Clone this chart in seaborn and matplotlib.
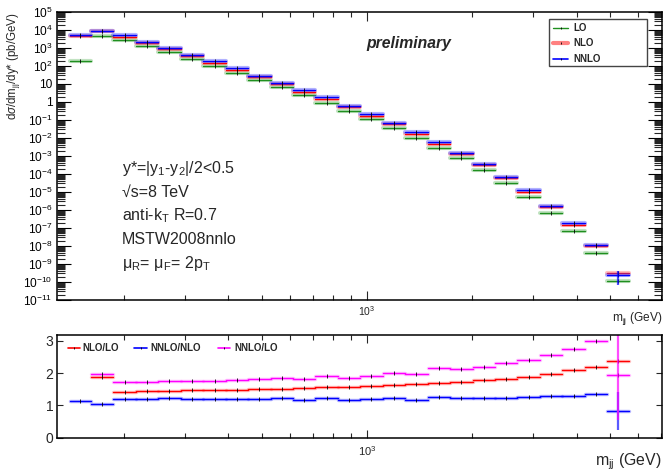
import numpy as np
import pandas as pd
import matplotlib
matplotlib.use("Agg")
import matplotlib.pyplot as plt
import seaborn as sns
from matplotlib.ticker import LogLocator, NullFormatter, NullLocator
from matplotlib.lines import Line2D
from matplotlib.patches import Rectangle

# ---------------- data ----------------
bin_edges = [140, 161, 187, 217, 251, 292, 339, 393, 456, 529, 614, 711, 824,
             956, 1109, 1289, 1494, 1735, 2013, 2332, 2704, 3142, 3641, 4230,
             4894, 5672]

lo = [190, 4.6e3, 2.9e3, 1.29e3, 580, 245, 104, 43, 17.4, 6.6, 2.5, 0.91,
      0.316, 0.11, 0.035, 0.0105, 2.9e-3, 7.4e-4, 1.67e-4, 3.3e-5, 5.5e-6,
      7.1e-7, 6.8e-8, 3.9e-9, 1.2e-10]
nlo = [4.9e3, 8.8e3, 4.3e3, 1.82e3, 850, 360, 153, 63, 24.5, 10, 3.7, 1.47,
       0.506, 0.174, 0.057, 0.0174, 4.8e-3, 1.29e-3, 3.0e-4, 6.0e-5, 1.05e-5,
       1.4e-6, 1.4e-7, 1.0e-8, 3.0e-10]
nnlo = [5.5e3, 9.1e3, 5.0e3, 2.15e3, 1000, 427, 182, 74, 29, 11.9, 4.5, 1.82,
        0.625, 0.206, 0.068, 0.0207, 6.0e-3, 1.5e-3, 3.6e-4, 7.1e-5, 1.3e-5,
        1.74e-6, 1.8e-7, 1.17e-8, 2.6e-10]
nnlo_last_err_low = 1.9e-10
nnlo_last_err_high = 1.7e-10

nan = np.nan
r_nlo_lo = [nan, 1.88, 1.41, 1.43, 1.45, 1.46, 1.47, 1.48, 1.49, 1.515, 1.535,
            1.56, 1.58, 1.60, 1.62, 1.66, 1.69, 1.72, 1.78, 1.83, 1.89, 1.985,
            2.08, 2.20, 2.36]
r_nnlo_nlo = [1.14, 1.035, 1.20, 1.19, 1.21, 1.19, 1.18, 1.19, 1.18, 1.21,
              1.17, 1.22, 1.17, 1.19, 1.21, 1.17, 1.26, 1.22, 1.21, 1.24,
              1.26, 1.285, 1.30, 1.35, 0.82]
r_nnlo_lo = [nan, 1.985, 1.71, 1.72, 1.755, 1.755, 1.755, 1.79, 1.80, 1.85,
             1.82, 1.90, 1.86, 1.92, 2.0, 1.955, 2.15, 2.13, 2.18, 2.30, 2.41,
             2.56, 2.74, 3.0, 1.94]
r_nnlo_nlo_last_err = 0.6
r_nnlo_lo_last_err_low = 1.4
r_nnlo_lo_last_err_high = 1.4

info_lines = ["y*=|y$_{\\rm 1}$-y$_{\\rm 2}$|/2<0.5",
              "\u221as=8 TeV",
              "anti-k$_{\\rm T}$ R=0.7",
              "MSTW2008nnlo",
              "\u03bc$_{\\rm R}$= \u03bc$_{\\rm F}$= 2p$_{\\rm T}$"]

# ---------------- style ----------------
sns.set_theme(style="ticks")
plt.rcParams["font.family"] = ["Liberation Sans", "DejaVu Sans"]
plt.rcParams["mathtext.fontset"] = "custom"
plt.rcParams["mathtext.rm"] = "Liberation Sans"
plt.rcParams["mathtext.it"] = "Liberation Sans:italic"
plt.rcParams["mathtext.bf"] = "Liberation Sans:bold"
plt.rcParams["axes.edgecolor"] = "black"
plt.rcParams["axes.linewidth"] = 1.1

W, H = 663, 475
def fx(x):
    return x / W
def fy(y):
    return 1 - y / H

fig = plt.figure(figsize=(W / 100, H / 100), dpi=100)
ax1 = fig.add_axes([fx(57.3), fy(300), (662 - 57.3) / W, (300 - 12) / H])
ax2 = fig.add_axes([fx(57.3), fy(437.5), (662 - 57.3) / W, (437.5 - 335) / H])

edges = np.array(bin_edges, dtype=float)
centers = np.sqrt(edges[:-1] * edges[1:])

def seg_frame(vals):
    rows = []
    for i, v in enumerate(vals):
        if v is None or not np.isfinite(v):
            continue
        rows.append({"m": edges[i], "v": v, "bin": i})
        rows.append({"m": edges[i + 1], "v": v, "bin": i})
    return pd.DataFrame(rows)

def draw_series(ax, vals, color, band_color, band_alpha=0.4, lw=1.0, band_lw=3.0):
    df = seg_frame(vals)
    sns.lineplot(data=df, x="m", y="v", units="bin", estimator=None,
                 color=band_color, lw=band_lw, alpha=band_alpha, ax=ax,
                 legend=False, sort=False)
    sns.lineplot(data=df, x="m", y="v", units="bin", estimator=None,
                 color=color, lw=lw, ax=ax, legend=False, sort=False)
    v = np.array(vals, dtype=float)
    ok = np.isfinite(v)
    ax.plot(centers[ok], v[ok], ls="none", marker="|", ms=2.5, mew=0.6, color="black")

GREEN = "#1f8f1f"
RED = "#ff0000"
BLUE = "#0000ff"
MAG = "#ff00ff"

for ax in (ax1, ax2):
    ax.set_xscale("log")
ax1.set_yscale("log")

# ---------------- top panel ----------------
draw_series(ax1, lo, GREEN, "#50b050", band_alpha=0.35)
draw_series(ax1, nlo, RED, "#ff6060", band_alpha=0.4)
draw_series(ax1, nnlo, BLUE, "#4040ff", band_alpha=0.4)
ax1.errorbar([centers[-1]], [nnlo[-1]],
             yerr=[[nnlo_last_err_low], [nnlo_last_err_high]],
             fmt="none", ecolor=BLUE, elinewidth=1.6, alpha=0.7)

ax1.set_xlim(129, 7040)
ax1.set_ylim(1e-11, 1e5)
ymaj = [10.0 ** k for k in range(-11, 6)]
ylab = []
for k in range(-11, 6):
    if k == 0:
        ylab.append("1")
    elif k == 1:
        ylab.append("10")
    else:
        ylab.append(r"$10^{%d}$" % k)
ax1.set_yticks(ymaj, ylab)
ax1.yaxis.set_minor_locator(LogLocator(base=10, subs=np.arange(2, 10), numticks=200))
ax1.yaxis.set_minor_formatter(NullFormatter())
ax1.set_xticks([1000], [r"$10^{3}$"])
ax1.xaxis.set_minor_locator(LogLocator(base=10, subs=np.arange(2, 10), numticks=50))
ax1.xaxis.set_minor_formatter(NullFormatter())
ax1.tick_params(axis="y", which="major", direction="in", length=10, width=0.8,
                left=True, right=True, labelsize=8.6, pad=3.5, colors="black")
ax1.tick_params(axis="y", which="minor", direction="in", length=5.5, width=0.8,
                left=True, right=True)
ax1.tick_params(axis="x", which="major", direction="in", length=6.5, width=0.8,
                top=True, bottom=True, labelsize=7.5, pad=3.0)
ax1.tick_params(axis="x", which="minor", direction="in", length=3.6, width=0.8,
                top=True, bottom=True)

ax1.set_xlabel(r"m$_{\rm jj}$ (GeV)", fontsize=8.6, loc="right")
ax1.xaxis.set_label_coords(1.0, -0.036)
ax1.set_ylabel(r"d$\sigma$/dm$_{\rm jj}$/dy* (pb/GeV)", fontsize=8.3, loc="top")
ax1.yaxis.set_label_coords(-0.058, 1.0)

ax1.text(fx(366.7), fy(47.7), "preliminary", transform=fig.transFigure,
         fontsize=11.3, fontweight="bold", fontstyle="italic", va="baseline", ha="left")

baselines = [172.9, 196.6, 220.3, 244.0, 267.7]
for t, b in zip(info_lines, baselines):
    fig.text(fx(122), fy(b), t, fontsize=11.5, va="baseline", ha="left")

# top legend (manual box)
fig.patches.append(Rectangle((fx(549), fy(66)), 98 / W, 47 / H, transform=fig.transFigure,
                             facecolor="white", edgecolor="#444444", lw=1.0, zorder=5))
leg_rows = [("LO", 27.7, GREEN, 1.0, 1.0), ("NLO", 43.0, "#ff6060", 3.0, 0.8),
            ("NNLO", 58.7, BLUE, 1.2, 1.0)]
for lab, yy, col, lw_, al in leg_rows:
    fig.lines.append(Line2D([fx(553), fx(568)], [fy(yy), fy(yy)], transform=fig.transFigure,
                            color=col, lw=lw_, alpha=al, zorder=6))
    fig.lines.append(Line2D([fx(560.5)], [fy(yy)], transform=fig.transFigure, ls="none",
                            marker="|", ms=2.0, mew=0.6, color="black", zorder=7))
    fig.text(fx(573), fy(yy), lab, fontsize=7, fontweight="bold", va="center", ha="left",
             zorder=7)

# ---------------- bottom panel ----------------
draw_series(ax2, r_nlo_lo, RED, "#ff6060", band_alpha=0.35, band_lw=2.5)
draw_series(ax2, r_nnlo_nlo, BLUE, "#4040ff", band_alpha=0.35, band_lw=2.5)
ax2.errorbar([centers[-1]], [r_nnlo_nlo[-1]], yerr=[[r_nnlo_nlo_last_err], [r_nnlo_nlo_last_err]],
             fmt="none", ecolor="#5a5aff", elinewidth=1.6)
draw_series(ax2, r_nnlo_lo, MAG, "#ff60ff", band_alpha=0.35, band_lw=2.5)
ax2.errorbar([centers[-1]], [r_nnlo_lo[-1]],
             yerr=[[r_nnlo_lo_last_err_low], [r_nnlo_lo_last_err_high]],
             fmt="none", ecolor=MAG, elinewidth=1.6, alpha=0.7)

ax2.set_xlim(129, 7040)
ax2.set_ylim(0, 3.18)
ax2.set_yticks([0, 1, 2, 3], ["0", "1", "2", "3"])
ax2.yaxis.set_minor_locator(NullLocator())
ax2.set_xticks([1000], [r"$10^{3}$"])
ax2.xaxis.set_minor_locator(LogLocator(base=10, subs=np.arange(2, 10), numticks=50))
ax2.xaxis.set_minor_formatter(NullFormatter())
ax2.tick_params(axis="y", which="major", direction="in", length=4, width=0.8,
                left=True, right=True, labelsize=10, pad=3)
ax2.tick_params(axis="x", which="major", direction="in", length=5.5, width=0.8,
                top=True, bottom=True, labelsize=8, pad=5)
ax2.tick_params(axis="x", which="minor", direction="in", length=3.6, width=0.8,
                top=True, bottom=True)
ax2.set_xlabel(r"m$_{\rm jj}$ (GeV)", fontsize=11.4, loc="right")
ax2.xaxis.set_label_coords(1.0, -0.135)
ax2.set_ylabel("")

leg2 = [("NLO/LO", RED, 68.3, 80.0, 82.7), ("NNLO/NLO", BLUE, 134.3, 146.7, 150.7),
        ("NNLO/LO", MAG, 218.3, 230.0, 234.0)]
for lab, col, x0, x1, xt in leg2:
    fig.lines.append(Line2D([fx(x0), fx(x1)], [fy(348.3), fy(348.3)], transform=fig.transFigure,
                            color=col, lw=1.2))
    fig.lines.append(Line2D([fx((x0 + x1) / 2)], [fy(348.3)], transform=fig.transFigure,
                            ls="none", marker="|", ms=2.0, mew=0.6, color="black"))
    fig.text(fx(xt), fy(348.3), lab, fontsize=7, fontweight="bold", va="center", ha="left")

fig.savefig("out.png", dpi=100)
